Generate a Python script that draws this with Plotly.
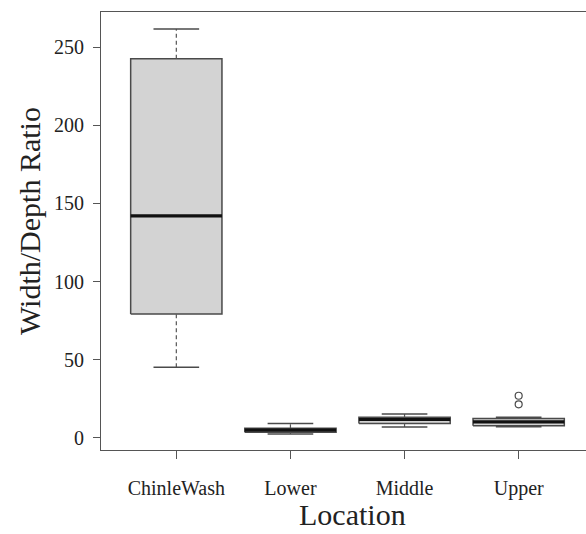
import plotly.graph_objects as go

# Five-number summaries per location (lower whisker, Q1, median, Q3, upper whisker)
locations = ["ChinleWash", "Lower", "Middle", "Upper"]
whisker_low = [45.2, 2.6, 7.0, 7.2]
q1 = [79.3, 3.6, 9.2, 7.8]
median = [142.0, 5.0, 11.8, 10.3]
q3 = [242.5, 6.2, 13.3, 12.5]
whisker_high = [261.5, 9.2, 15.3, 13.2]
outliers = {"Upper": [21.5, 27.0]}

BOX_HALF = 0.4
CAP_HALF = 0.2
FONT = "Liberation Serif"

fig = go.Figure()

for i, name in enumerate(locations):
    x0 = i + 1
    # box body
    fig.add_trace(go.Scatter(
        x=[x0 - BOX_HALF, x0 + BOX_HALF, x0 + BOX_HALF, x0 - BOX_HALF, x0 - BOX_HALF],
        y=[q1[i], q1[i], q3[i], q3[i], q1[i]],
        mode="lines", fill="toself", fillcolor="#d3d3d3",
        line=dict(color="#4a4a4a", width=1.5), hoverinfo="skip", showlegend=False))
    # dashed whiskers
    for lo, hi in ((whisker_low[i], q1[i]), (q3[i], whisker_high[i])):
        fig.add_trace(go.Scatter(
            x=[x0, x0], y=[lo, hi], mode="lines",
            line=dict(color="#555555", width=1.2, dash="4px,3px"),
            hoverinfo="skip", showlegend=False))
    # whisker caps
    for v in (whisker_low[i], whisker_high[i]):
        fig.add_trace(go.Scatter(
            x=[x0 - CAP_HALF, x0 + CAP_HALF], y=[v, v], mode="lines",
            line=dict(color="#4a4a4a", width=1.5), hoverinfo="skip", showlegend=False))
    # median
    fig.add_trace(go.Scatter(
        x=[x0 - BOX_HALF, x0 + BOX_HALF], y=[median[i], median[i]], mode="lines",
        line=dict(color="#111111", width=3.2), hoverinfo="skip", showlegend=False))
    # outliers
    if name in outliers:
        vals = outliers[name]
        fig.add_trace(go.Scatter(
            x=[x0] * len(vals), y=vals, mode="markers",
            marker=dict(symbol="circle-open", size=7, color="#4a4a4a", line=dict(width=1.2)),
            hoverinfo="skip", showlegend=False))

fig.update_layout(
    width=586, height=534,
    margin=dict(l=101, r=0, t=12, b=84),
    paper_bgcolor="white", plot_bgcolor="white",
    font=dict(family=FONT, color="#222222"),
    xaxis=dict(
        range=[0.34, 4.59], tickmode="array",
        tickvals=list(range(1, len(locations) + 1)), ticktext=locations,
        showgrid=False, zeroline=False,
        showline=True, linecolor="#555555", linewidth=1.2, mirror=True,
        ticks="outside", ticklen=8, tickcolor="#555555",
        tickfont=dict(size=20, family=FONT, color="#222222"),
        ticklabelstandoff=12),
    yaxis=dict(
        range=[-7.7, 272.4], tickmode="array",
        tickvals=[0, 50, 100, 150, 200, 250],
        showgrid=False, zeroline=False,
        showline=True, linecolor="#555555", linewidth=1.2,
        ticks="outside", ticklen=7, tickcolor="#555555",
        tickfont=dict(size=20, family=FONT, color="#222222"),
        ticklabelstandoff=5),
    annotations=[
        dict(text="Location", xref="paper", yref="paper",
             x=(352 - 101) / 485, y=(450 - 533) / 438,
             xanchor="center", yanchor="bottom", showarrow=False,
             font=dict(size=30, family=FONT, color="#222222")),
        dict(text="Width/Depth Ratio", xref="paper", yref="paper",
             x=(30 - 101) / 485, y=(450 - 221) / 438, textangle=-90,
             xanchor="center", yanchor="middle", showarrow=False,
             font=dict(size=30, family=FONT, color="#222222")),
    ],
)

fig.write_html("out.html")
